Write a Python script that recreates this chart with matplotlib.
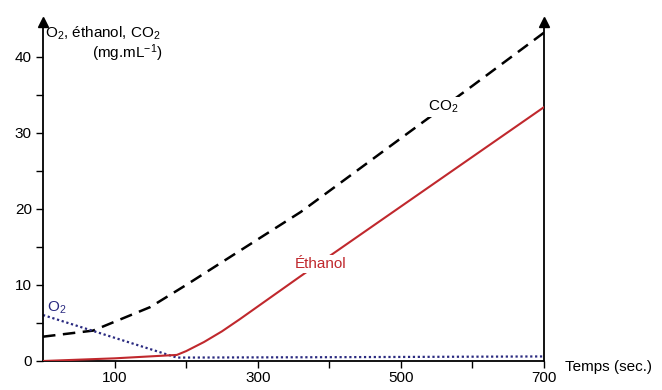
import numpy as np
import matplotlib.pyplot as plt
from matplotlib.ticker import MultipleLocator, FixedLocator

plt.rcParams['font.family'] = ['Liberation Sans', 'DejaVu Sans']
plt.rcParams['mathtext.default'] = 'regular'

# time (sec.) and concentrations (mg/mL)
t_co2 = [0, 70, 150, 200, 250, 300, 360, 415, 500, 600, 700]
co2 = [3.2, 4.0, 7.1, 10.0, 13.0, 16.0, 19.6, 23.4, 29.3, 36.2, 43.2]

t_eth = [0, 100, 187, 200, 225, 250, 275, 359, 700]
ethanol = [0.0, 0.35, 0.8, 1.3, 2.5, 3.9, 5.5, 11.1, 33.4]

t_o2 = [0, 187, 400, 700]
o2 = [6.05, 0.45, 0.5, 0.6]

x_labels = [100, 300, 500, 700]

fig = plt.figure(figsize=(6.62, 3.90), dpi=100)
ax = fig.add_axes([43 / 662, 1 - 361 / 390, (544 - 43) / 662, (361 - 22) / 390])

ax.plot(t_co2, co2, color='black', lw=1.8, dashes=(5, 3), zorder=2)
ax.plot(t_eth, ethanol, color='#c0282d', lw=1.5, zorder=3)
ax.plot(t_o2, o2, color='#2a2a80', lw=1.6, ls=(0, (1, 1.2)), zorder=2)

ax.set_xlim(0, 700)
ax.set_ylim(0, 44.6)

ax.spines['top'].set_visible(False)
for s in ['left', 'right', 'bottom']:
    ax.spines[s].set_linewidth(1.3)

ax.xaxis.set_major_locator(FixedLocator(x_labels))
ax.xaxis.set_minor_locator(FixedLocator([200, 400, 600]))
ax.yaxis.set_major_locator(MultipleLocator(10))
ax.yaxis.set_minor_locator(MultipleLocator(5))
ax.tick_params(axis='both', which='both', direction='out', length=5, width=1, labelsize=11)
ax.tick_params(axis='y', which='both', right=False, pad=3)
ax.tick_params(axis='x', which='both', top=False, pad=2)

# arrow heads on the vertical axes
ax.plot([0, 1], [1, 1], transform=ax.transAxes, ls='none', marker='^',
        ms=7, color='black', clip_on=False)

ax.text(5, 7.0, 'O$_2$', color='#2a2a80', fontsize=11, va='center', ha='left')
ax.text(388, 12.8, 'Éthanol', color='#c0282d', fontsize=11, ha='center', va='center',
        bbox=dict(facecolor='white', edgecolor='none', pad=1.5), zorder=4)
ax.text(559, 33.4, 'CO$_2$', color='black', fontsize=11, ha='center', va='center',
        bbox=dict(facecolor='white', edgecolor='none', pad=1.5), zorder=4)

fig.text(45 / 662, 1 - 33 / 390, 'O$_2$, éthanol, CO$_2$', fontsize=11, va='center', ha='left')
fig.text(92 / 662, 1 - 53 / 390, '(mg.mL$^{-1}$)', fontsize=11, va='center', ha='left')
fig.text(565 / 662, 1 - 367 / 390, 'Temps (sec.)', fontsize=11, va='center', ha='left')

fig.savefig('out.png', dpi=100)
